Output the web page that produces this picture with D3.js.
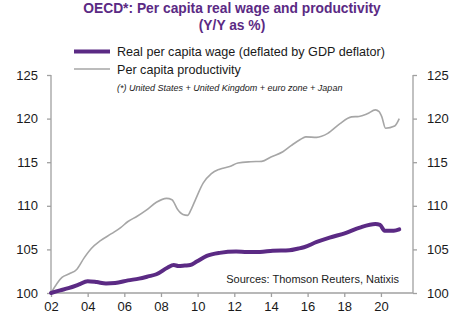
<!DOCTYPE html>
<html>
<head>
<meta charset="utf-8">
<script src="https://cdn.jsdelivr.net/npm/d3@7"></script>
<style>
body { margin: 0; background: #fff; }
text { font-family: "Liberation Sans", Arial, sans-serif; }
</style>
</head>
<body>
<div id="chart"></div>
<script>
let width = 464,
    height = 331;

// productivity (decimal year, index 2002 = 100)
let prodYears = [2002.0, 2002.6, 2003.0, 2003.4, 2003.8, 2004.2, 2004.7, 2005.3, 2005.8, 2006.2,
  2006.7, 2007.2, 2007.75, 2008.3, 2008.6, 2008.9, 2009.2, 2009.45, 2009.65, 2009.9,
  2010.3, 2010.75, 2011.2, 2011.75, 2012.2, 2012.9, 2013.5, 2014.0, 2014.65, 2015.1,
  2015.6, 2015.9, 2016.5, 2017.1, 2017.75, 2018.4, 2018.8, 2019.25, 2019.7, 2019.9,
  2020.05, 2020.25, 2020.75, 2021.0];
let prodValues = [100, 101.8, 102.2, 102.7, 104.0, 105.1, 106.0, 106.8, 107.5, 108.2,
  108.8, 109.5, 110.4, 110.85, 110.7, 109.6, 109.0, 108.9, 109.6, 110.8,
  112.6, 113.7, 114.2, 114.5, 114.9, 115.05, 115.1, 115.6, 116.2, 116.9,
  117.6, 117.9, 117.85, 118.3, 119.4, 120.2, 120.25, 120.55, 121.0, 120.8,
  120.2, 118.9, 119.15, 120.0];

// real per capita wage
let wageYears = [2002.0, 2002.5, 2002.95, 2003.5, 2004.0, 2004.5, 2005.0, 2005.5, 2006.2, 2006.8,
  2007.3, 2007.75, 2008.35, 2008.7, 2008.95, 2009.3, 2009.6, 2009.95, 2010.5, 2011.2,
  2012.1, 2012.7, 2013.4, 2014.1, 2015.0, 2015.5, 2015.8, 2016.5, 2017.2, 2018.1,
  2018.85, 2019.7, 2019.95, 2020.2, 2020.7, 2021.0];
let wageValues = [100, 100.3, 100.55, 100.95, 101.35, 101.25, 101.1, 101.15, 101.45, 101.65,
  101.9, 102.15, 102.9, 103.2, 103.1, 103.15, 103.2, 103.6, 104.25, 104.6,
  104.75, 104.7, 104.7, 104.85, 104.9, 105.1, 105.25, 105.85, 106.35, 106.9,
  107.5, 107.9, 107.8, 107.15, 107.15, 107.3];

let xTicks = [2002, 2004, 2006, 2008, 2010, 2012, 2014, 2016, 2018, 2020];
let yTicks = [100, 105, 110, 115, 120, 125];

let purple = "#5b2a84",
    grey = "#a6a6a6",
    axisGrey = "#a0a0a0";

let svg = d3.select("#chart")
  .append("svg")
  .attr("width", width)
  .attr("height", height);

let x = d3.scaleLinear()
  .domain([2002, 2021.75])
  .range([51, 413]);

let y = d3.scaleLinear()
  .domain([100, 125])
  .range([293, 75]);

// axes
let leftAxis = svg.append("g")
  .attr("transform", "translate(51,0)")
  .call(d3.axisLeft(y).tickValues(yTicks).tickSize(4).tickPadding(9).tickFormat(d3.format("d")));

let rightAxis = svg.append("g")
  .attr("transform", "translate(413,0)")
  .call(d3.axisRight(y).tickValues(yTicks).tickSize(4).tickPadding(10).tickFormat(d3.format("d")));

let bottomAxis = svg.append("g")
  .attr("transform", "translate(0,293)")
  .call(d3.axisBottom(x).tickValues(xTicks).tickSize(4).tickPadding(5)
    .tickFormat(d => String(d).slice(2)));

[leftAxis, rightAxis, bottomAxis].forEach(g => {
  g.select(".domain").attr("stroke", axisGrey).attr("stroke-width", 1.3);
  g.selectAll(".tick line").attr("stroke", axisGrey).attr("stroke-width", 1.3);
  g.selectAll(".tick text").attr("fill", "#1a1a1a").style("font-size", "13px")
    .style("font-family", "'Liberation Sans', Arial, sans-serif");
});
// plain domain lines, no outer ticks
leftAxis.select(".domain").attr("d", "M0,75V293");
rightAxis.select(".domain").attr("d", "M0,75V293");
bottomAxis.select(".domain").attr("d", "M51,0H413");

let line = d3.line()
  .x(d => x(d[0]))
  .y(d => y(d[1]))
  .curve(d3.curveMonotoneX);

svg.append("path")
  .datum(d3.zip(prodYears, prodValues))
  .attr("d", line)
  .attr("fill", "none")
  .attr("stroke", grey)
  .attr("stroke-width", 1.6);

svg.append("path")
  .datum(d3.zip(wageYears, wageValues))
  .attr("d", line)
  .attr("fill", "none")
  .attr("stroke", purple)
  .attr("stroke-width", 4)
  .attr("stroke-linecap", "round");

// title
let title = svg.append("text")
  .attr("x", 232)
  .attr("text-anchor", "middle")
  .attr("fill", purple)
  .style("font-size", "13.8px")
  .style("font-weight", "bold");
title.append("tspan").attr("x", 232).attr("y", 13).text("OECD*: Per capita real wage and productivity");
title.append("tspan").attr("x", 232).attr("y", 30).text("(Y/Y as %)");

// legend
let legend = svg.append("g");
legend.append("line")
  .attr("x1", 74).attr("x2", 110).attr("y1", 51.5).attr("y2", 51.5)
  .attr("stroke", purple).attr("stroke-width", 4);
legend.append("text")
  .attr("x", 117).attr("y", 56)
  .style("font-size", "12.6px")
  .attr("fill", "#1a1a1a")
  .text("Real per capita wage (deflated by GDP deflator)");
legend.append("line")
  .attr("x1", 74).attr("x2", 110).attr("y1", 69).attr("y2", 69)
  .attr("stroke", grey).attr("stroke-width", 1.6);
legend.append("text")
  .attr("x", 117).attr("y", 73.5)
  .style("font-size", "12.6px")
  .attr("fill", "#1a1a1a")
  .text("Per capita productivity");
legend.append("text")
  .attr("x", 117).attr("y", 91)
  .style("font-size", "9px")
  .style("font-style", "italic")
  .attr("fill", "#1a1a1a")
  .text("(*) United States + United Kingdom + euro zone + Japan");

// source
svg.append("text")
  .attr("x", 399).attr("y", 283)
  .attr("text-anchor", "end")
  .style("font-size", "11px")
  .attr("fill", "#1a1a1a")
  .text("Sources: Thomson Reuters, Natixis");
</script>
</body>
</html>
